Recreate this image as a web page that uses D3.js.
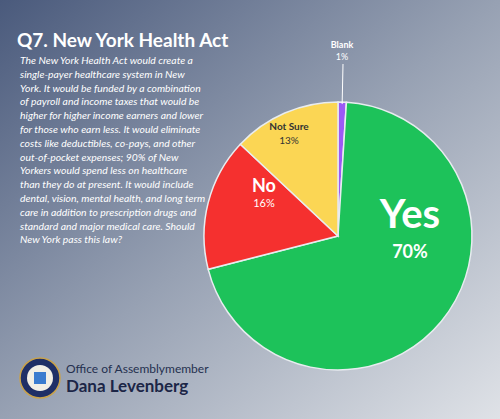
<html>
<head>
<meta charset="UTF-8">
<script src="https://cdn.jsdelivr.net/npm/d3@7"></script>
<style>body{margin:0}</style>
</head>
<body>
<svg id="chart" width="500" height="419"></svg>
<script>
// data
var categories = ["Blank", "Yes", "No", "Not Sure"];
var values = [1, 70, 16, 13];
var colors = ["#9b59f5", "#1dc25a", "#f5302f", "#fbd654"];

var bodyText = [
  "The New York Health Act would create a",
  "single-payer healthcare system in New",
  "York. It would be funded by a combination",
  "of payroll and income taxes that would be",
  "higher for higher income earners and lower",
  "for those who earn less. It would eliminate",
  "costs like deductibles, co-pays, and other",
  "out-of-pocket expenses; 90% of New",
  "Yorkers would spend less on healthcare",
  "than they do at present. It would include",
  "dental, vision, mental health, and long term",
  "care in addition to prescription drugs and",
  "standard and major medical care. Should",
  "New York pass this law?"
];

var svg = d3.select("#chart");
var defs = svg.append("defs");
var grad = defs.append("linearGradient").attr("id", "bg")
  .attr("x1", "0").attr("y1", "0").attr("x2", "1").attr("y2", "1");
grad.append("stop").attr("offset", "0").attr("stop-color", "#4a5a7c");
grad.append("stop").attr("offset", "0.5").attr("stop-color", "#97a1b3");
grad.append("stop").attr("offset", "1").attr("stop-color", "#dfe2e7");
svg.append("rect").attr("width", 500).attr("height", 419).attr("fill", "url(#bg)");

svg.append("text").attr("x", 17).attr("y", 47)
  .attr("font-family", "Lato").attr("font-weight", "bold").attr("font-size", 19)
  .attr("fill", "#fff").text("Q7. New York Health Act");

svg.append("g").selectAll("text").data(bodyText).enter().append("text")
  .attr("x", 20).attr("y", function (d, i) { return 64 + i * 13.8; })
  .attr("font-family", "Lato").attr("font-style", "italic").attr("font-size", 10.4)
  .attr("fill", "#fff").text(function (d) { return d; });

// pie
var cx = 338, cy = 236, r = 134;
var pie = d3.pie().sort(null).value(function (d) { return d; });
var arc = d3.arc().innerRadius(0).outerRadius(r);
var arcs = pie(values);
var g = svg.append("g").attr("transform", "translate(" + cx + "," + cy + ")");
g.selectAll("path").data(arcs).enter().append("path")
  .attr("d", arc).attr("fill", function (d, i) { return colors[i]; })
  .attr("stroke", "#e8ecf0").attr("stroke-width", 1.5);

var labelPos = [null, [72, -8], [-74, -44], [-49, -106]];
var nameSize = [0, 40, 18, 10];
var pctSize = [0, 18, 11, 10];
var textCol = ["#fff", "#fff", "#fff", "#333"];
arcs.forEach(function (a, i) {
  if (!labelPos[i]) return;
  var p = labelPos[i];
  g.append("text").attr("x", p[0]).attr("y", p[1]).attr("text-anchor", "middle")
    .attr("font-family", "Lato").attr("font-weight", "bold").attr("font-size", nameSize[i])
    .attr("fill", textCol[i]).text(categories[i]);
  g.append("text").attr("x", p[0]).attr("y", p[1] + pctSize[i] + (i == 1 ? 12 : 4)).attr("text-anchor", "middle")
    .attr("font-family", "Lato").attr("font-weight", i == 1 ? "bold" : "normal").attr("font-size", pctSize[i])
    .attr("fill", textCol[i]).text(values[i] + "%");
});
// blank label outside
var mid = (arcs[0].startAngle + arcs[0].endAngle) / 2;
g.append("line")
  .attr("x1", Math.sin(mid) * (r - 2)).attr("y1", -Math.cos(mid) * (r - 2))
  .attr("x2", 5).attr("y2", -172).attr("stroke", "#fff").attr("stroke-width", 1);
g.append("text").attr("x", 4).attr("y", -188).attr("text-anchor", "middle")
  .attr("font-family", "Lato").attr("font-weight", "bold").attr("font-size", 9).attr("fill", "#fff").text(categories[0]);
g.append("text").attr("x", 4).attr("y", -176).attr("text-anchor", "middle")
  .attr("font-family", "Lato").attr("font-size", 9).attr("fill", "#fff").text(values[0] + "%");

// seal and name
var seal = svg.append("g").attr("transform", "translate(40,378)");
seal.append("circle").attr("r", 20).attr("fill", "#1f2f66").attr("stroke", "#c9a24a").attr("stroke-width", 1.5);
seal.append("circle").attr("r", 13).attr("fill", "#f2efe6");
seal.append("rect").attr("x", -6).attr("y", -6).attr("width", 12).attr("height", 12).attr("fill", "#3b7ccf");
svg.append("text").attr("x", 66).attr("y", 373).attr("font-family", "Lato").attr("font-size", 12)
  .attr("fill", "#25304f").text("Office of Assemblymember");
svg.append("text").attr("x", 66).attr("y", 392).attr("font-family", "Lato").attr("font-weight", "bold").attr("font-size", 17)
  .attr("fill", "#1c2647").text("Dana Levenberg");
</script>
</body>
</html>
